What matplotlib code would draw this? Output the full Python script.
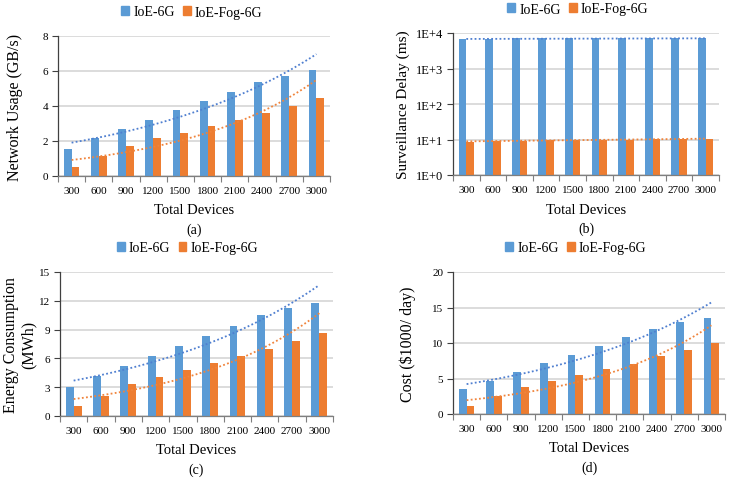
import numpy as np
import matplotlib
matplotlib.use("Agg")
import matplotlib.pyplot as plt
from matplotlib.ticker import FixedLocator, NullLocator, FixedFormatter
from matplotlib.patches import Patch

plt.rcParams['font.family'] = ['Liberation Serif', 'DejaVu Serif']

devices = ["300", "600", "900", "1200", "1500", "1800", "2100", "2400", "2700", "3000"]
series_names = ["IoE-6G", "IoE-Fog-6G"]

net_ioe = [1.57, 2.16, 2.68, 3.18, 3.75, 4.27, 4.79, 5.36, 5.73, 6.03]
net_fog = [0.54, 1.15, 1.69, 2.15, 2.45, 2.84, 3.18, 3.60, 4.00, 4.46]

delay_ioe = [6600, 6800, 7000, 7000, 7000, 7000, 7000, 7000, 7000, 7000]
delay_fog = [8.6, 9.0, 9.3, 9.6, 9.7, 9.8, 9.9, 10.2, 10.3, 10.4]

energy_ioe = [3.06, 4.13, 5.20, 6.25, 7.29, 8.33, 9.34, 10.49, 11.20, 11.80]
energy_fog = [1.08, 2.12, 3.33, 4.10, 4.76, 5.49, 6.22, 7.01, 7.85, 8.68]

cost_ioe = [3.5, 4.7, 5.9, 7.2, 8.3, 9.6, 10.9, 12.0, 12.9, 13.5]
cost_fog = [1.1, 2.5, 3.75, 4.64, 5.43, 6.32, 7.07, 8.1, 9.0, 10.0]

BLUE = "#5B9BD5"
ORANGE = "#ED7D31"
TBLUE = "#4F7FD0"
TORANGE = "#F0843C"

W, H = 733, 481
fig = plt.figure(figsize=(W / 100, H / 100), dpi=100)


def rect(l, t, r, b):
    return [l / W, 1 - b / H, (r - l) / W, (b - t) / H]


def exp_trend(y):
    x = np.arange(len(y))
    b, a = np.polyfit(x, np.log(np.asarray(y, float)), 1)
    xs = np.linspace(0, len(y) - 1, 100)
    return xs, np.exp(a + b * xs)


def panel(box, ioe, fog, ylim, yticks, yticklabels, ylabel, letter, log=False,
          ylabel_x=15, ylabel_fs=11.5, leg_dx=-8):
    ax = fig.add_axes(rect(*box))
    x = np.arange(len(devices))
    w = 0.29
    if log:
        ax.set_yscale('log')
    base = 1 if log else 0
    ax.bar(x - w / 2, np.asarray(ioe) - base, w, bottom=base, color=BLUE, zorder=2)
    ax.bar(x + w / 2, np.asarray(fog) - base, w, bottom=base, color=ORANGE, zorder=2)
    xs, ys = exp_trend(ioe)
    ax.plot(xs, ys, linestyle=(0, (1.0, 1.3)), color=TBLUE, lw=1.3, zorder=3)
    xs, ys = exp_trend(fog)
    ax.plot(xs, ys, linestyle=(0, (1.0, 1.3)), color=TORANGE, lw=1.3, zorder=3)

    ax.set_xlim(-0.5, len(devices) - 0.5)
    ax.set_ylim(*ylim)
    ax.xaxis.set_major_locator(FixedLocator(x))
    ax.set_xticklabels(devices, fontsize=8)
    ax.xaxis.set_minor_locator(FixedLocator(np.arange(len(devices) + 1) - 0.5))
    ax.tick_params(axis='x', which='major', length=0, pad=7)
    ax.tick_params(axis='x', which='minor', length=4, color='#7f7f7f', width=0.8)
    ax.yaxis.set_major_locator(FixedLocator(yticks))
    ax.yaxis.set_minor_locator(NullLocator())
    ax.yaxis.set_major_formatter(FixedFormatter(yticklabels))
    ax.tick_params(axis='y', which='major', length=4, color='#404040', width=0.8,
                   labelsize=8 if not log else 9, pad=3)
    ax.grid(axis='y', color='#D9D9D9', lw=1.3, zorder=0)
    ax.set_axisbelow(True)
    for s in ['top', 'right']:
        ax.spines[s].set_visible(False)
    ax.spines['left'].set_color('#404040')
    ax.spines['left'].set_linewidth(0.9)
    ax.spines['bottom'].set_color('#7f7f7f')
    ax.spines['bottom'].set_linewidth(0.9)

    l, t, r, b = box
    cx = (l + r) / 2
    fig.text(cx / W, 1 - (b + 34) / H, "Total Devices", ha='center', va='center', fontsize=10.5)
    fig.text(cx / W, 1 - (b + 53) / H, letter, ha='center', va='center', fontsize=10)
    fig.text(ylabel_x / W, 1 - ((t + b) / 2) / H, ylabel, ha='center', va='center',
             rotation=90, fontsize=ylabel_fs, linespacing=1.15)

    handles = [Patch(color=BLUE), Patch(color=ORANGE)]
    fig.legend(handles, series_names, loc='center', ncol=2,
               bbox_to_anchor=((cx + leg_dx) / W, 1 - (t - 24) / H),
               frameon=False, fontsize=10, handlelength=0.55, handleheight=0.55,
               handletextpad=0.3, columnspacing=0.6)
    return ax


panel((58, 37, 330, 177), net_ioe, net_fog, (0, 8), [0, 2, 4, 6, 8],
      ["0", "2", "4", "6", "8"], "Network Usage (GB/s)", "(a)", leg_dx=-2)
panel((453, 34, 719, 176), delay_ioe, delay_fog, (1, 1e4), [1, 10, 100, 1000, 10000],
      ["1E+0", "1E+1", "1E+2", "1E+3", "1E+4"], "Surveillance Delay (ms)", "(b)", log=True,
      ylabel_x=403, ylabel_fs=11, leg_dx=-8)
panel((60, 273, 333, 417), energy_ioe, energy_fog, (0, 15), [0, 3, 6, 9, 12, 15],
      ["0", "3", "6", "9", "12", "15"], "Energy Consumption\n(MWh)", "(c)", ylabel_x=20,
      leg_dx=-9)
panel((453, 273, 725, 415), cost_ioe, cost_fog, (0, 20), [0, 5, 10, 15, 20],
      ["0", "5", "10", "15", "20"], "Cost ($1000/ day)", "(d)", ylabel_x=408, leg_dx=-13)

fig.savefig("out.png", dpi=100)
